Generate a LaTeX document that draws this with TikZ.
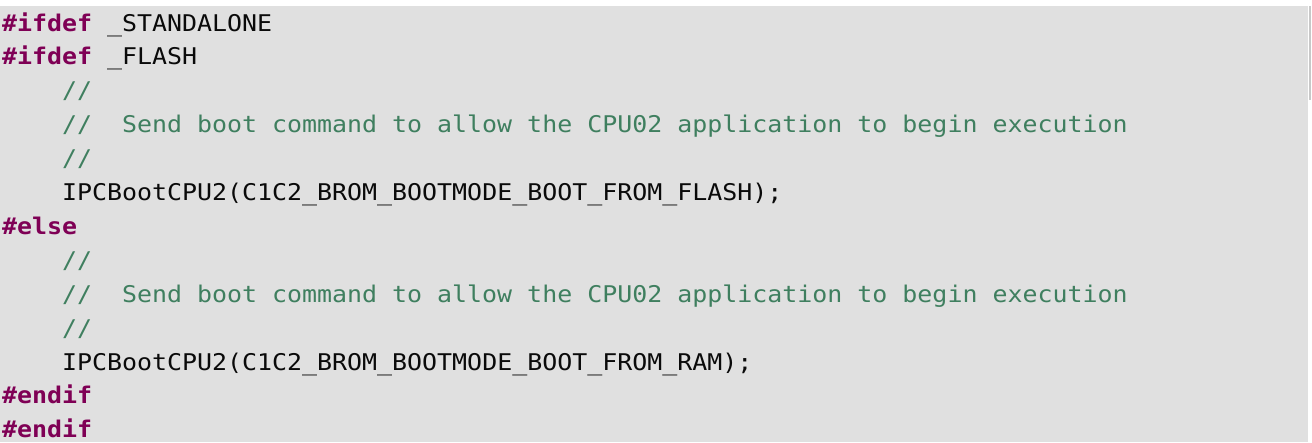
\documentclass[tikz,border=0pt]{standalone}
\usepackage{fontspec}
\newfontfamily\codefont{DejaVu Sans Mono}[FakeStretch=1.084]
\definecolor{codebg}{RGB}{224,224,224}
\definecolor{kwcol}{RGB}{127,0,85}
\definecolor{cmtcol}{RGB}{63,127,95}
\definecolor{txtcol}{RGB}{10,10,10}
\definecolor{barcol}{RGB}{200,200,200}
\tikzset{
  codeline/.style={anchor=base west, inner sep=0pt, outer sep=0pt,
    font=\codefont\fontsize{23}{23}\selectfont, text=txtcol},
  kw/.style={codeline, text=kwcol, font=\codefont\bfseries\fontsize{23}{23}\selectfont},
  cmt/.style={codeline, text=cmtcol}
}
\begin{document}
\begin{tikzpicture}[x=1pt,y=-1pt]
\useasboundingbox (0,0) rectangle (1312,442);
\fill[white] (0,0) rectangle (1312,442);
\fill[codebg] (0,6) rectangle (1308,442);
\fill[barcol] (1309,6) rectangle (1311,100);
% line k baseline = 31 + 33.9 (k-1); column c at x = 2 + 15 c
\node[kw] (l1) at (2,31) {\#ifdef};
\node[codeline] (l1b) at (107,31) {\_STANDALONE};
\node[kw] (l2) at (2,64.9) {\#ifdef};
\node[codeline] (l2b) at (107,64.9) {\_FLASH};
\node[cmt] (l3) at (62,98.8) {//};
\node[cmt] (l4) at (62,132.7) {//};
\node[cmt] (l4b) at (122,132.7) {Send boot command to allow the CPU02 application to begin execution};
\node[cmt] (l5) at (62,166.6) {//};
\node[codeline] (l6) at (62,200.5) {IPCBootCPU2(C1C2\_BROM\_BOOTMODE\_BOOT\_FROM\_FLASH);};
\node[kw] (l7) at (2,234.4) {\#else};
\node[cmt] (l8) at (62,268.3) {//};
\node[cmt] (l9) at (62,302.2) {//};
\node[cmt] (l9b) at (122,302.2) {Send boot command to allow the CPU02 application to begin execution};
\node[cmt] (l10) at (62,336.1) {//};
\node[codeline] (l11) at (62,370) {IPCBootCPU2(C1C2\_BROM\_BOOTMODE\_BOOT\_FROM\_RAM);};
\node[kw] (l12) at (2,403.9) {\#endif};
\node[kw] (l13) at (2,437.8) {\#endif};
\end{tikzpicture}
\end{document}
